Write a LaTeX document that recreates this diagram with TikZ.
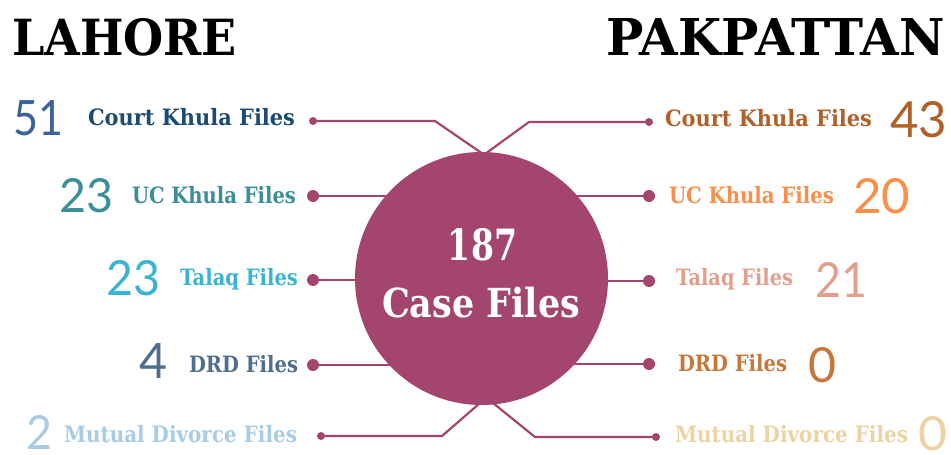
\documentclass[tikz,border=0pt]{standalone}
\usepackage{fontspec}
\usepackage{graphicx}
\setmainfont{DejaVu Serif}
\newfontfamily\numfont{Lato}
\usetikzlibrary{backgrounds}
\definecolor{circ}{HTML}{A3456F}
\definecolor{cA}{HTML}{3A629C}
\definecolor{cAl}{HTML}{1C4A75}
\definecolor{cB}{HTML}{3A8F98}
\definecolor{cC}{HTML}{3BB4D3}
\definecolor{cD}{HTML}{4E6F8E}
\definecolor{cE}{HTML}{A7CCE6}
\definecolor{rA}{HTML}{B0612A}
\definecolor{rB}{HTML}{F98F4B}
\definecolor{rC}{HTML}{E2A08C}
\definecolor{rD}{HTML}{C8773A}
\definecolor{rE}{HTML}{EBD3A2}
\tikzset{
  txt/.style={inner sep=0pt, outer sep=0pt},
  conn/.style={draw=circ, line width=2.2pt},
  bigdot/.style={circle, fill=circ, inner sep=0pt, minimum size=12pt},
  smalldot/.style={circle, fill=circ, inner sep=0pt, minimum size=8pt},
}
% label: width, text
\newcommand\lab[2]{\fontsize{22.5}{24}\selectfont\bfseries\resizebox{#1pt}{\height}{#2}}
% number: width, height, text
\newcommand\num[3]{\resizebox{#1pt}{#2pt}{\numfont #3}}
\begin{document}
\begin{tikzpicture}[x=1pt,y=-1pt]
\useasboundingbox (0,0) rectangle (951,455);

% headings
\node[txt, anchor=base west] (hl) at (12,55) {\resizebox{225pt}{37pt}{\bfseries LAHORE}};
\node[txt, anchor=base east] (hr) at (945,55) {\resizebox{339pt}{37pt}{\bfseries PAKPATTAN}};

% central circle
\node[circle, fill=circ, minimum size=253pt, inner sep=0pt] (c) at (481.5,278.5) {};
\node[txt, anchor=base, text=white] (t1) at (482.5,260) {\resizebox{69pt}{32pt}{\bfseries 187}};
\node[txt, anchor=base, text=white] (t2) at (481,317) {\fontsize{40}{42}\selectfont\bfseries\resizebox{198pt}{\height}{Case Files}};

% dots left
\node[smalldot] (l1) at (313,121) {};
\node[bigdot] (l2) at (313,196) {};
\node[bigdot] (l3) at (313,280) {};
\node[bigdot] (l4) at (313,365) {};
\node[smalldot] (l5) at (321,436) {};
% dots right
\node[smalldot] (r1) at (649,122) {};
\node[bigdot] (r2) at (649,196) {};
\node[bigdot] (r3) at (649,281) {};
\node[bigdot] (r4) at (649,364) {};
\node[smalldot] (r5) at (656,437) {};

\coordinate (bl1) at (435,121);
\coordinate (br1) at (529,122);
\coordinate (bl5) at (442,436);
\coordinate (br5) at (535,437);
\coordinate (tl) at (483,154);
\coordinate (tr) at (485,154);
\coordinate (bbl) at (480,403);
\coordinate (bbr) at (493,403);

\begin{scope}[on background layer]
\fill[white] (0,0) rectangle (951,455);
\draw[conn] (l1.center) -- (bl1) -- (tl);
\draw[conn] (r1.center) -- (br1) -- (tr);
\draw[conn] (l5.center) -- (bl5) -- (bbl);
\draw[conn] (r5.center) -- (br5) -- (bbr);
\draw[conn] (l2.center) -- (l2 -| c.center);
\draw[conn] (l3.center) -- (l3 -| c.center);
\draw[conn] (l4.center) -- (l4 -| c.center);
\draw[conn] (r2.center) -- (r2 -| c.center);
\draw[conn] (r3.center) -- (r3 -| c.center);
\draw[conn] (r4.center) -- (r4 -| c.center);
\end{scope}

% left labels
\node[txt, anchor=base west, text=cAl] (ll1) at (88,125) {\lab{207}{Court Khula Files}};
\node[txt, anchor=base west, text=cB] (ll2) at (132,203) {\lab{164}{UC Khula Files}};
\node[txt, anchor=base west, text=cC] (ll3) at (180,285) {\lab{118}{Talaq Files}};
\node[txt, anchor=base west, text=cD] (ll4) at (189,372) {\lab{109}{DRD Files}};
\node[txt, anchor=base west, text=cE] (ll5) at (64,442) {\lab{233}{Mutual Divorce Files}};
% left numbers
\node[txt, anchor=base west, text=cA] (ln1) at (13,135) {\num{50}{35}{51}};
\node[txt, anchor=base west, text=cB] (ln2) at (59,212) {\num{54}{34}{23}};
\node[txt, anchor=base west, text=cC] (ln3) at (106,295) {\num{54}{35}{23}};
\node[txt, anchor=base west, text=cD] (ln4) at (139,378) {\num{28}{35}{4}};
\node[txt, anchor=base west, text=cE] (ln5) at (26,449) {\num{26}{34}{2}};

% right labels
\node[txt, anchor=base west, text=rA] (rl1) at (665,126) {\lab{207}{Court Khula Files}};
\node[txt, anchor=base west, text=rB] (rl2) at (669,203) {\lab{165}{UC Khula Files}};
\node[txt, anchor=base west, text=rC] (rl3) at (676,285) {\lab{117}{Talaq Files}};
\node[txt, anchor=base west, text=rD] (rl4) at (678,371) {\lab{109}{DRD Files}};
\node[txt, anchor=base west, text=rE] (rl5) at (675,442) {\lab{233}{Mutual Divorce Files}};
% right numbers
\node[txt, anchor=base west, text=rA] (rn1) at (890,137) {\num{57}{36}{43}};
\node[txt, anchor=base west, text=rB] (rn2) at (853,213) {\num{57}{35}{20}};
\node[txt, anchor=base west, text=rC] (rn3) at (815,297) {\num{52}{35}{21}};
\node[txt, anchor=base west, text=rD] (rn4) at (808,382) {\num{28}{35}{0}};
\node[txt, anchor=base west, text=rE] (rn5) at (918,450) {\num{29}{34}{0}};
\end{tikzpicture}
\end{document}
